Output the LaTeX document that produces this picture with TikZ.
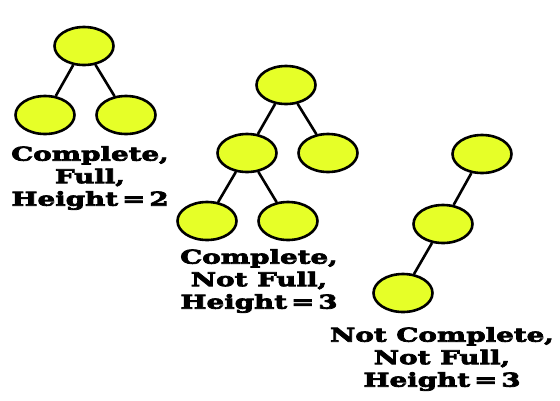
\documentclass[tikz,border=0pt]{standalone}
\usepackage{fontspec}
\newfontfamily\labelfont[FakeStretch=1.46,FakeBold=4]{DejaVu Serif Bold}
\definecolor{nodeyellow}{RGB}{230,255,40}
\newcommand{\eqgap}{\hspace{4pt}=\hspace{4pt}}
\tikzset{
  treenode/.style={ellipse,draw=black,line width=2.6pt,fill=nodeyellow,
    minimum width=59pt,minimum height=38pt,inner sep=0pt},
  treelabel/.style={align=center,inner sep=0pt,
    font=\labelfont\fontsize{19}{22.5}\selectfont}
}
\usetikzlibrary{shapes.geometric}
\begin{document}
\begin{tikzpicture}[x=1pt,y=-1pt]
      \useasboundingbox (0,0) rectangle (560,400);
      % complete and full, height 2
      \path
        (84,46) node[treenode] (a0){}
        (45,115) node[treenode] (a1){}
        (126,115) node[treenode] (a2){};
      % complete, not full, height 3
      \path
        (286,85) node[treenode] (b0){}
        (247,153) node[treenode] (b1){}
        (328,153) node[treenode] (b2){}
        (207,221) node[treenode] (b3){}
        (288,221) node[treenode] (b4){};
      % not complete, not full, height 3
      \path
        (482,154) node[treenode] (c0){}
        (443,224) node[treenode] (c1){}
        (403,293) node[treenode] (c2){};
      \begin{scope}[line width=2.6pt]
        \draw (a0) to (a1);
        \draw (a0) to (a2);
        \draw (b0) to (b1);
        \draw (b0) to (b2);
        \draw (b1) to (b3);
        \draw (b1) to (b4);
        \draw (c0) to (c1);
        \draw (c1) to (c2);
      \end{scope}
      \node[treelabel,anchor=north] (la) at (90,146) {Complete,\\Full,\\Height\eqgap 2};
      \node[treelabel,anchor=north] (lb) at (259,249) {Complete,\\Not Full,\\Height\eqgap 3};
      \node[treelabel,anchor=north] (lc) at (442,327) {Not Complete,\\Not Full,\\Height\eqgap 3};
    \end{tikzpicture}
\end{document}
